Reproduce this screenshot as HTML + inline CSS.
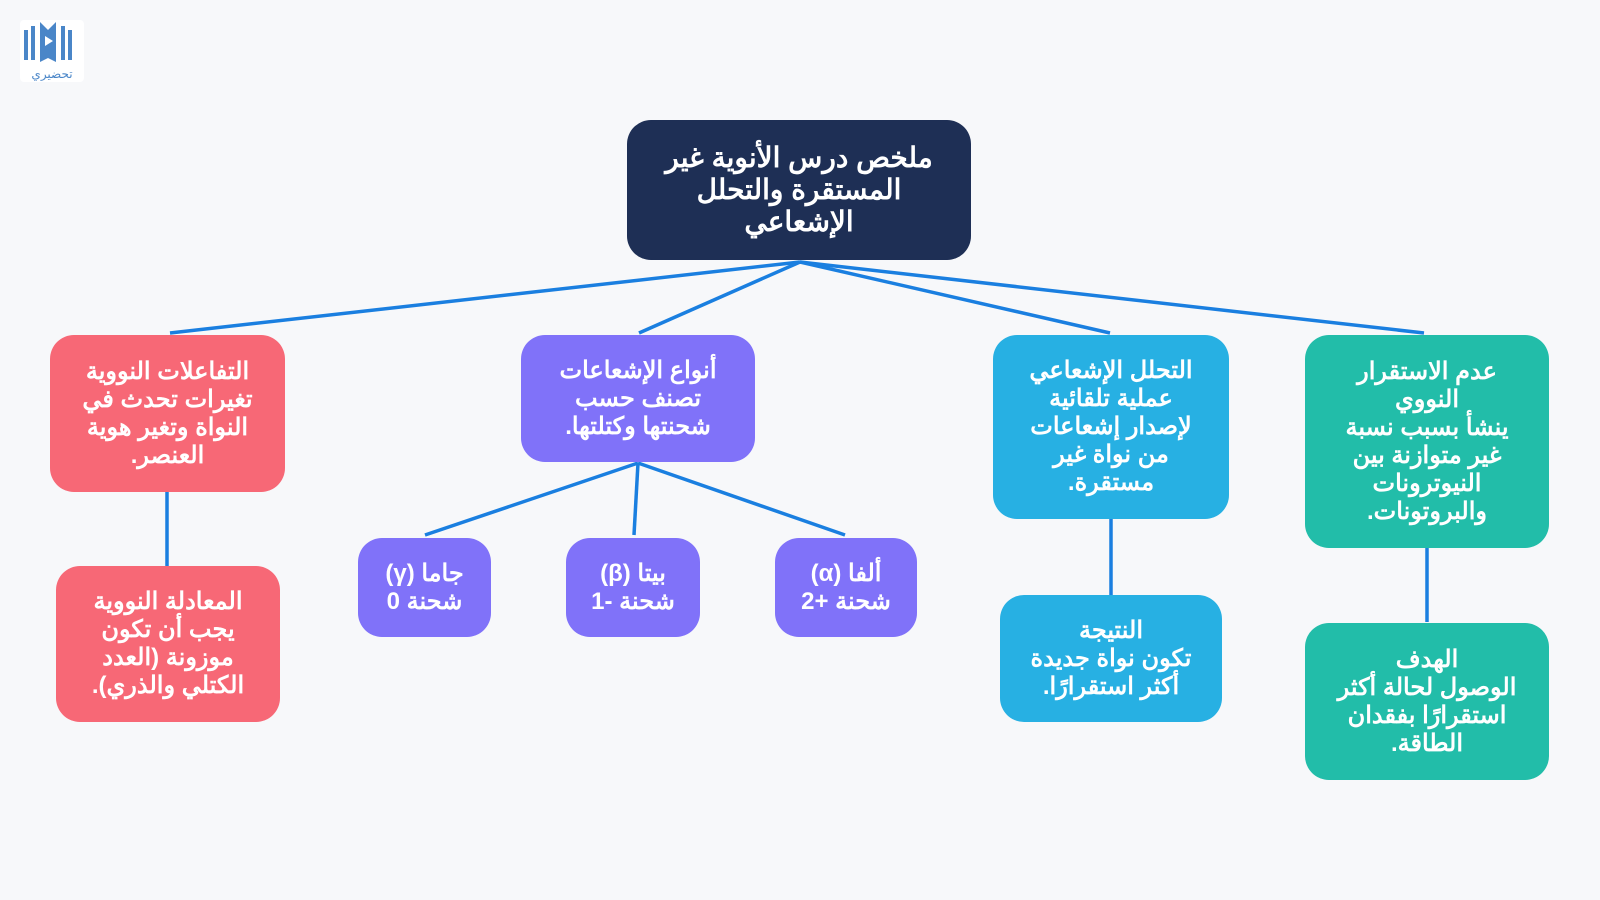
<!DOCTYPE html>
<html><head><meta charset="utf-8"><style>
body{margin:0;width:1600px;height:900px;background:#f7f8fa;position:relative;overflow:hidden;font-family:"Liberation Sans","Noto Sans CJK SC",sans-serif}
.b{position:absolute;border-radius:24px;color:#fff;font-weight:bold;display:flex;align-items:center;justify-content:center;text-align:center;direction:rtl;font-size:24px;line-height:28px;box-sizing:border-box;padding:0 8px}
.r{background:#f76876}.p{background:#8072f9}.bl{background:#27b0e3}.t{background:#22bda9}
svg{position:absolute;left:0;top:0}
</style></head><body>
<svg width="1600" height="900"><g stroke="#1a7fe0" stroke-width="3.5" fill="none">
<line x1="800" y1="262" x2="170" y2="333"/><line x1="800" y1="262" x2="639" y2="333"/><line x1="800" y1="262" x2="1110" y2="333"/><line x1="800" y1="262" x2="1424" y2="333"/>
<line x1="638" y1="463" x2="425" y2="535"/><line x1="638" y1="463" x2="634" y2="535"/><line x1="638" y1="463" x2="845" y2="535"/>
<line x1="167" y1="492" x2="167" y2="566"/><line x1="1111" y1="519" x2="1111" y2="595"/><line x1="1427" y1="548" x2="1427" y2="622"/></g>
<rect x="20" y="20" width="64" height="62" rx="4" fill="#fff"/>
<g fill="#4a86c8"><rect x="24" y="30" width="4" height="30"/><rect x="31" y="26" width="4" height="34"/><rect x="68" y="30" width="4" height="30"/><rect x="61" y="26" width="4" height="34"/><path d="M40 22 L48 30 L56 22 L56 62 L48 58 L40 62Z"/></g>
<path d="M45 36 L53 41 L45 46Z" fill="#fff"/>
<text x="52" y="78" font-size="12" fill="#4a86c8" text-anchor="middle" font-family="Noto Sans CJK SC">تحضيري</text>
</svg>
<div class="b" style="left:627px;top:120px;width:344px;height:140px;background:#1e2f55;font-size:28px;line-height:32px">ملخص درس الأنوية غير<br>المستقرة والتحلل<br>الإشعاعي</div>
<div class="b r" style="left:50px;top:335px;width:235px;height:157px">التفاعلات النووية<br>تغيرات تحدث في<br>النواة وتغير هوية<br>العنصر.</div>
<div class="b r" style="left:56px;top:566px;width:224px;height:156px">المعادلة النووية<br>يجب أن تكون<br>موزونة (العدد<br>الكتلي والذري).</div>
<div class="b p" style="left:521px;top:335px;width:234px;height:127px">أنواع الإشعاعات<br>تصنف حسب<br>شحنتها وكتلتها.</div>
<div class="b p" style="left:358px;top:538px;width:133px;height:99px">جاما (γ)<br>شحنة 0</div>
<div class="b p" style="left:566px;top:538px;width:134px;height:99px">بيتا (β)<br>شحنة -1</div>
<div class="b p" style="left:775px;top:538px;width:142px;height:99px">ألفا (α)<br>شحنة +2</div>
<div class="b bl" style="left:993px;top:335px;width:236px;height:184px">التحلل الإشعاعي<br>عملية تلقائية<br>لإصدار إشعاعات<br>من نواة غير<br>مستقرة.</div>
<div class="b bl" style="left:1000px;top:595px;width:222px;height:127px">النتيجة<br>تكون نواة جديدة<br>أكثر استقرارًا.</div>
<div class="b t" style="left:1305px;top:335px;width:244px;height:213px">عدم الاستقرار<br>النووي<br>ينشأ بسبب نسبة<br>غير متوازنة بين<br>النيوترونات<br>والبروتونات.</div>
<div class="b t" style="left:1305px;top:623px;width:244px;height:157px">الهدف<br>الوصول لحالة أكثر<br>استقرارًا بفقدان<br>الطاقة.</div>
</body></html>
